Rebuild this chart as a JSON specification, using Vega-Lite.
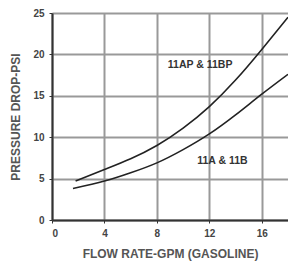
{
  "$schema": "https://vega.github.io/schema/vega-lite/v6.json",
  "width": 236,
  "height": 207,
  "autosize": {"type": "none"},
  "padding": {"left": 52, "top": 13, "right": 0, "bottom": 48},
  "background": "white",
  "config": {"view": {"stroke": null}},
  "datasets": {
    "curves": [
      {"flow": 1.8, "psi": 4.7, "series": "11AP & 11BP"},
      {"flow": 4, "psi": 6.1, "series": "11AP & 11BP"},
      {"flow": 6, "psi": 7.4, "series": "11AP & 11BP"},
      {"flow": 8, "psi": 9.0, "series": "11AP & 11BP"},
      {"flow": 10, "psi": 11.1, "series": "11AP & 11BP"},
      {"flow": 12, "psi": 13.7, "series": "11AP & 11BP"},
      {"flow": 14, "psi": 16.9, "series": "11AP & 11BP"},
      {"flow": 16, "psi": 20.6, "series": "11AP & 11BP"},
      {"flow": 18, "psi": 24.5, "series": "11AP & 11BP"},
      {"flow": 1.6, "psi": 3.8, "series": "11A & 11B"},
      {"flow": 4, "psi": 4.7, "series": "11A & 11B"},
      {"flow": 6, "psi": 5.7, "series": "11A & 11B"},
      {"flow": 8, "psi": 6.9, "series": "11A & 11B"},
      {"flow": 10, "psi": 8.5, "series": "11A & 11B"},
      {"flow": 12, "psi": 10.4, "series": "11A & 11B"},
      {"flow": 14, "psi": 12.7, "series": "11A & 11B"},
      {"flow": 16, "psi": 15.2, "series": "11A & 11B"},
      {"flow": 18, "psi": 17.6, "series": "11A & 11B"}
    ],
    "labels": [
      {"flow": 11.3, "psi": 18.7, "text": "11AP & 11BP"},
      {"flow": 13.0, "psi": 7.1, "text": "11A & 11B"}
    ]
  },
  "layer": [
    {
      "data": {"name": "curves"},
      "mark": {"type": "line", "interpolate": "natural", "strokeWidth": 1.6, "clip": true},
      "encoding": {
        "x": {
          "field": "flow", "type": "quantitative",
          "scale": {"domain": [0, 18], "nice": false},
          "axis": {
            "values": [0, 4, 8, 12, 16],
            "grid": true, "gridColor": "#999", "gridWidth": 2,
            "title": "FLOW RATE-GPM (GASOLINE)",
            "titleFont": "Liberation Sans", "titleFontSize": 12, "titleFontWeight": "bold", "titleColor": "#555",
            "titlePadding": 10,
            "labelFont": "Liberation Sans", "labelFontSize": 10, "labelFontWeight": "bold", "labelColor": "#444",
            "labelPadding": 5,
            "domainColor": "#333", "domainWidth": 2,
            "tickColor": "#333", "tickSize": 3
          }
        },
        "y": {
          "field": "psi", "type": "quantitative",
          "scale": {"domain": [0, 25], "nice": false},
          "axis": {
            "values": [0, 5, 10, 15, 20, 25],
            "grid": true, "gridColor": "#999", "gridWidth": 2,
            "title": "PRESSURE DROP-PSI",
            "titleFont": "Liberation Sans", "titleFontSize": 12, "titleFontWeight": "bold", "titleColor": "#555",
            "titlePadding": 10,
            "labelFont": "Liberation Sans", "labelFontSize": 10, "labelFontWeight": "bold", "labelColor": "#444",
            "labelPadding": 5,
            "domainColor": "#333", "domainWidth": 2,
            "tickColor": "#333", "tickSize": 3
          }
        },
        "detail": {"field": "series", "type": "nominal"},
        "color": {"value": "#222"}
      }
    },
    {
      "data": {"name": "labels"},
      "mark": {"type": "text", "font": "Liberation Sans", "fontSize": 10.5, "fontWeight": "bold", "color": "#333"},
      "encoding": {
        "x": {"field": "flow", "type": "quantitative"},
        "y": {"field": "psi", "type": "quantitative"},
        "text": {"field": "text"}
      }
    }
  ]
}
